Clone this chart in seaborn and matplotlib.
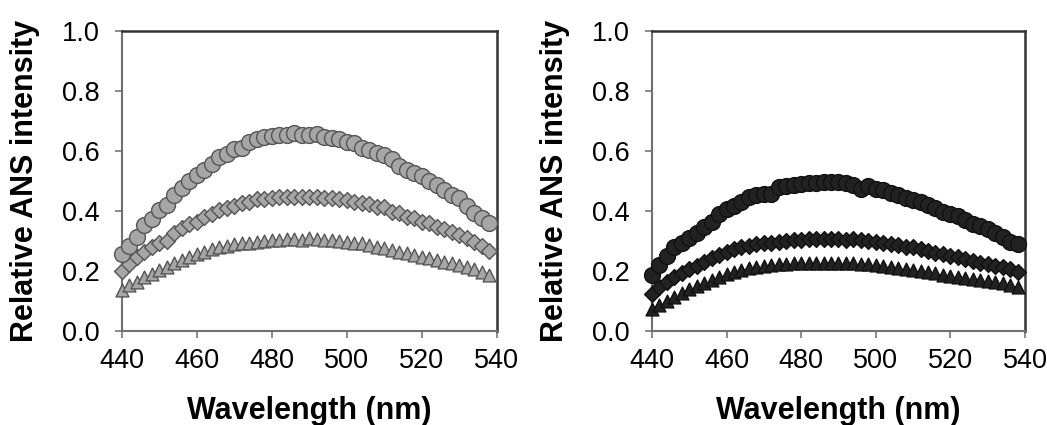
"""Relative ANS fluorescence intensity spectra, two panels."""
import matplotlib
matplotlib.use("Agg")
import matplotlib.pyplot as plt
import numpy as np
import pandas as pd
import seaborn as sns


wavelength = np.arange(440, 540, 2)

# left panel (grey markers)
left_circle = [0.257, 0.284, 0.314, 0.353, 0.372, 0.403, 0.420, 0.453, 0.476, 0.501,
               0.520, 0.537, 0.557, 0.581, 0.590, 0.606, 0.609, 0.629, 0.640, 0.646,
               0.650, 0.654, 0.653, 0.659, 0.653, 0.653, 0.656, 0.648, 0.643, 0.640,
               0.631, 0.626, 0.609, 0.603, 0.592, 0.587, 0.573, 0.550, 0.535, 0.526,
               0.515, 0.501, 0.487, 0.470, 0.453, 0.442, 0.415, 0.392, 0.376, 0.361]
left_diamond = [0.201, 0.223, 0.248, 0.264, 0.281, 0.292, 0.301, 0.326, 0.342, 0.357,
                0.364, 0.379, 0.390, 0.403, 0.409, 0.417, 0.426, 0.431, 0.439, 0.441,
                0.444, 0.446, 0.448, 0.446, 0.448, 0.448, 0.446, 0.443, 0.443, 0.439,
                0.435, 0.431, 0.426, 0.423, 0.414, 0.412, 0.398, 0.392, 0.381, 0.376,
                0.364, 0.359, 0.348, 0.339, 0.331, 0.320, 0.309, 0.298, 0.283, 0.268]
left_triangle = [0.137, 0.153, 0.164, 0.179, 0.190, 0.203, 0.214, 0.226, 0.237, 0.248,
                 0.257, 0.264, 0.272, 0.279, 0.283, 0.290, 0.292, 0.294, 0.298, 0.301,
                 0.303, 0.303, 0.306, 0.306, 0.303, 0.309, 0.306, 0.303, 0.303, 0.301,
                 0.298, 0.294, 0.292, 0.287, 0.281, 0.276, 0.270, 0.264, 0.259, 0.253,
                 0.248, 0.242, 0.237, 0.231, 0.226, 0.220, 0.214, 0.206, 0.198, 0.187]

# right panel (black markers)
right_circle = [0.187, 0.220, 0.250, 0.279, 0.292, 0.309, 0.328, 0.346, 0.364, 0.390,
                0.405, 0.416, 0.431, 0.448, 0.453, 0.457, 0.457, 0.479, 0.483, 0.486,
                0.490, 0.492, 0.492, 0.495, 0.495, 0.495, 0.492, 0.486, 0.473, 0.483,
                0.472, 0.470, 0.461, 0.453, 0.442, 0.437, 0.431, 0.420, 0.409, 0.398,
                0.390, 0.383, 0.370, 0.357, 0.350, 0.339, 0.328, 0.312, 0.298, 0.290]
right_diamond = [0.123, 0.147, 0.164, 0.179, 0.192, 0.205, 0.216, 0.231, 0.242, 0.253,
                 0.264, 0.272, 0.279, 0.283, 0.290, 0.292, 0.294, 0.298, 0.301, 0.303,
                 0.303, 0.305, 0.305, 0.305, 0.305, 0.307, 0.303, 0.305, 0.303, 0.301,
                 0.298, 0.294, 0.290, 0.287, 0.281, 0.279, 0.272, 0.268, 0.261, 0.257,
                 0.250, 0.246, 0.239, 0.234, 0.228, 0.223, 0.216, 0.212, 0.205, 0.198]
right_triangle = [0.072, 0.087, 0.101, 0.114, 0.127, 0.139, 0.150, 0.161, 0.170, 0.181,
                  0.190, 0.197, 0.203, 0.209, 0.214, 0.216, 0.220, 0.222, 0.223, 0.225,
                  0.225, 0.225, 0.225, 0.227, 0.227, 0.227, 0.225, 0.225, 0.223, 0.222,
                  0.220, 0.216, 0.214, 0.211, 0.207, 0.203, 0.199, 0.196, 0.192, 0.188,
                  0.184, 0.181, 0.177, 0.173, 0.170, 0.166, 0.163, 0.159, 0.153, 0.148]

x_ticks = [440, 460, 480, 500, 520, 540]
y_ticks = [0.0, 0.2, 0.4, 0.6, 0.8, 1.0]

sns.set_style("white")
plt.rcParams["font.family"] = ["Liberation Sans", "DejaVu Sans"]
plt.rcParams["text.color"] = "black"
plt.rcParams["axes.labelcolor"] = "black"

# marker: (symbol, size)
marker_style = {
    "triangle": ("^", 85),
    "diamond": ("D", 65),
    "circle": ("o", 130),
}


def draw_panel(ax, series, face, edge):
    """Scatter the three spectra of one panel."""
    df = pd.DataFrame({"wavelength": wavelength, **series})
    for name in ["triangle", "diamond", "circle"]:
        marker, size = marker_style[name]
        sns.scatterplot(data=df, x="wavelength", y=name, ax=ax, marker=marker,
                        s=size, color=face, edgecolor=edge, linewidth=1.0,
                        zorder=3, clip_on=False)
    ax.set_xlim(440, 540)
    ax.set_ylim(0, 1.0)
    ax.set_xticks(x_ticks)
    ax.set_yticks(y_ticks)
    ax.set_yticklabels([f"{v:.1f}" for v in y_ticks])
    ax.tick_params(axis="both", labelsize=19.5, length=5, width=1.2,
                   color="#777777", labelcolor="black", direction="out",
                   bottom=True, left=True)
    ax.tick_params(axis="y", pad=11)
    ax.tick_params(axis="x", pad=7)
    ax.set_xlabel("Wavelength (nm)", fontsize=22, fontweight="bold", labelpad=16)
    ax.set_ylabel("Relative ANS intensity", fontsize=22, fontweight="bold", labelpad=16)
    for side in ["left", "bottom"]:
        ax.spines[side].set_color("#707070")
        ax.spines[side].set_linewidth(1.5)
    for side in ["top", "right"]:
        ax.spines[side].set_color("#333333")
        ax.spines[side].set_linewidth(1.8)


fig = plt.figure(figsize=(10.47, 4.25), dpi=100)
ax_left = fig.add_axes([0.1165, 0.2212, 0.358, 0.706])
ax_right = fig.add_axes([0.6227, 0.2212, 0.3563, 0.706])

draw_panel(ax_left,
           {"circle": left_circle, "diamond": left_diamond, "triangle": left_triangle},
           "#a6a6a6", "#555555")
draw_panel(ax_right,
           {"circle": right_circle, "diamond": right_diamond, "triangle": right_triangle},
           "#222222", "#111111")

fig.savefig("out.png", dpi=100)
